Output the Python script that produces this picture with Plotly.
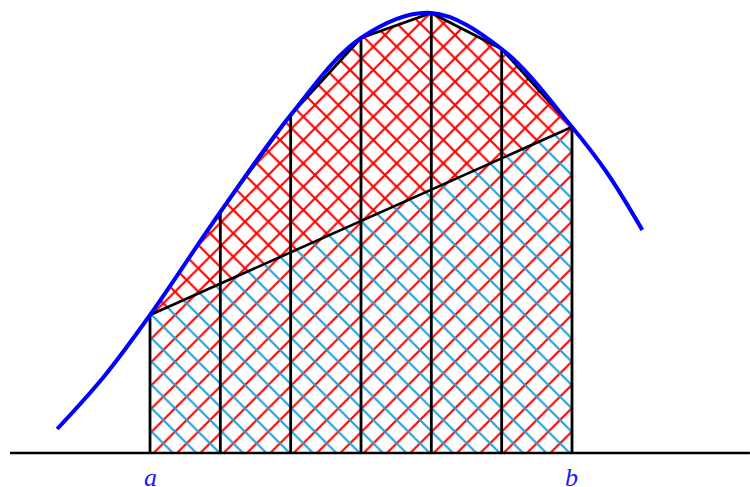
import plotly.graph_objects as go

# curve samples (x in subinterval units, a=0, b=6)
curve_x = [-1.32, -0.66, 0, 1, 2, 3, 4, 5, 6, 6.5, 7.0]
curve_y = [0.24, 0.76, 1.38, 2.41, 3.38, 4.15, 4.40, 4.04, 3.26, 2.80, 2.23]

# trapezoid nodes
node_x = [0, 1, 2, 3, 4, 5, 6]
node_y = [1.38, 2.41, 3.38, 4.15, 4.40, 4.04, 3.26]

axis_x = [-1.99, 8.53]
labels = ["a", "b"]
label_x = [0, 6]

RED = "#ff0000"
LBLUE = "#1fa0dc"

fig = go.Figure()

# lower region (below chord) : red "/" + blue "\"
low_x = [node_x[0], node_x[0], node_x[-1], node_x[-1], node_x[0]]
low_y = [0, node_y[0], node_y[-1], 0, 0]
fig.add_trace(go.Scatter(x=low_x, y=low_y, fill="toself", mode="none",
                         fillcolor="white",
                         fillpattern=dict(shape="/", fgcolor=RED, bgcolor="white",
                                          fgopacity=1, size=16.5, solidity=0.13)))
fig.add_trace(go.Scatter(x=low_x, y=low_y, fill="toself", mode="none",
                         fillcolor="rgba(0,0,0,0)",
                         fillpattern=dict(shape="\\", fgcolor=LBLUE, bgcolor="rgba(0,0,0,0)",
                                          fgopacity=1, size=16.5, solidity=0.13)))

# upper region (between chord and trapezoid tops): red crosshatch
up_x = node_x + [node_x[0]]
up_y = node_y + [node_y[0]]
fig.add_trace(go.Scatter(x=up_x, y=up_y, fill="toself", mode="none",
                         fillcolor="white",
                         fillpattern=dict(shape="x", fgcolor=RED, bgcolor="white",
                                          fgopacity=1, size=16.5, solidity=0.25)))

# vertical lines
vx, vy = [], []
for xx, yy in zip(node_x, node_y):
    vx += [xx, xx, None]
    vy += [0, yy, None]
fig.add_trace(go.Scatter(x=vx, y=vy, mode="lines", line=dict(color="black", width=2.8)))
# trapezoid tops
fig.add_trace(go.Scatter(x=node_x, y=node_y, mode="lines", line=dict(color="black", width=2.8)))
# chord
fig.add_trace(go.Scatter(x=[node_x[0], node_x[-1]], y=[node_y[0], node_y[-1]], mode="lines",
                         line=dict(color="black", width=2.6)))
# axis
fig.add_trace(go.Scatter(x=axis_x, y=[0, 0], mode="lines", line=dict(color="black", width=2.4)))
# curve
fig.add_trace(go.Scatter(x=curve_x, y=curve_y, mode="lines",
                         line=dict(color="#0000ff", width=4, shape="spline")))

for lab, lx in zip(labels, label_x):
    fig.add_annotation(x=lx, y=-0.24, text=f"<i>{lab}</i>", showarrow=False,
                       font=dict(family="Liberation Serif", size=26, color="#1a1aff"),
                       xanchor="center", yanchor="middle")

fig.update_layout(width=750, height=487, margin=dict(l=0, r=0, t=0, b=0),
                  paper_bgcolor="white", plot_bgcolor="white", showlegend=False,
                  xaxis=dict(range=[-2.133, 8.531], visible=False, fixedrange=True),
                  yaxis=dict(range=[-0.34, 4.53], visible=False, fixedrange=True))

fig.write_html("out.html", config={"displayModeBar": False},
               post_script="document.body.style.margin='0px';document.body.style.overflow='hidden';")
